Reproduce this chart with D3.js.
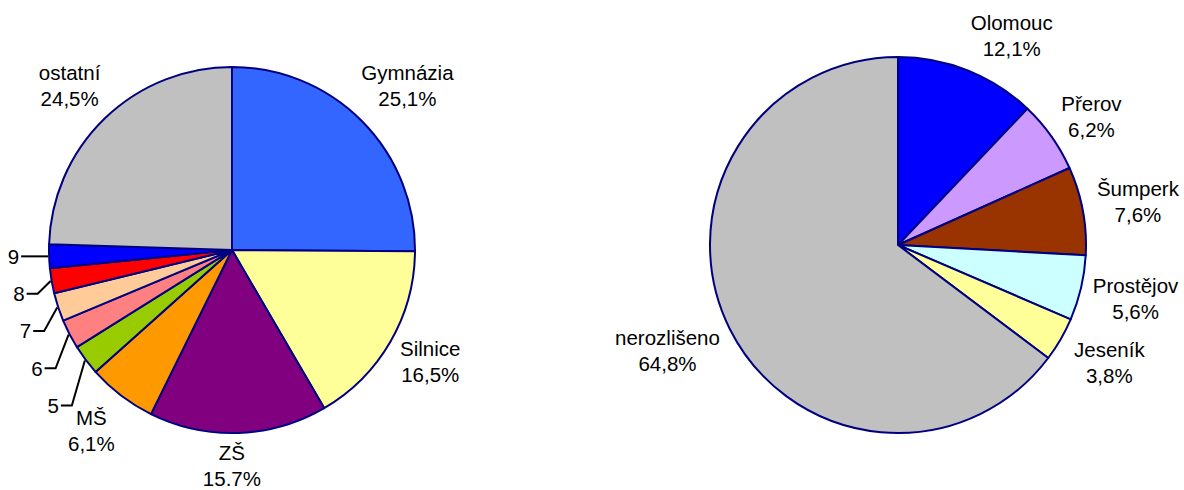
<!DOCTYPE html>
<html>
<head>
<meta charset="utf-8">
<script src="https://cdn.jsdelivr.net/npm/d3@7"></script>
<style>
  body { margin: 0; background: #fff; }
  svg { display: block; }
  text { font-family: "Liberation Sans", Arial, sans-serif; font-size: 20.5px; fill: #000; }
</style>
</head>
<body>
<svg id="chart" width="1184" height="490"></svg>
<script>
// left pie - types of schools
const leftNames = ['Gymnázia', 'Silnice', 'ZŠ', 'MŠ', '5', '6', '7', '8', '9', 'ostatní'];
const leftValues = [25.1, 16.5, 15.7, 6.1, 2.7, 2.6, 2.5, 2.2, 2.1, 24.5];
const leftLabels = ['25,1%', '16,5%', '15.7%', '6,1%', '', '', '', '', '', '24,5%'];
const leftColors = ['#3366FF', '#FFFF99', '#800080', '#FF9900', '#99CC00', '#FF8080', '#FFCC99', '#FF0000', '#0000FF', '#C0C0C0'];

// right pie - districts
const rightNames = ['Olomouc', 'Přerov', 'Šumperk', 'Prostějov', 'Jeseník', 'nerozlišeno'];
const rightValues = [12.1, 6.2, 7.6, 5.6, 3.8, 64.8];
const rightLabels = ['12,1%', '6,2%', '7,6%', '5,6%', '3,8%', '64,8%'];
const rightColors = ['#0000FF', '#CC99FF', '#993300', '#CCFFFF', '#FFFF99', '#C0C0C0'];

const svg = d3.select('#chart');
const pie = d3.pie().sort(null).value(d => d.value);

// small nudges so labels sit where the original put them
const nudge = {
  'Gymnázia': [13, -3], 'Silnice': [0, -3], 'ZŠ': [-8, -13], 'MŠ': [-2, -2], 'ostatní': [-3, 0],
  'Olomouc': [24, 15], 'Přerov': [-4, 11], 'Šumperk': [2, 1], 'Prostějov': [2, -2], 'Jeseník': [2, -4], 'nerozlišeno': [-14, -3]
};

function drawPie(cx, cy, r, labelR, names, values, labels, colors, leaderNames) {
  const data = names.map((n, i) => ({ name: n, value: values[i], label: labels[i], color: colors[i] }));
  const arcs = pie(data);
  const g = svg.append('g').attr('transform', `translate(${cx},${cy})`);
  const arc = d3.arc().innerRadius(0).outerRadius(r);

  g.selectAll('path.slice')
    .data(arcs)
    .enter()
    .append('path')
    .attr('class', 'slice')
    .attr('d', arc)
    .attr('fill', d => d.data.color)
    .attr('stroke', '#000080')
    .attr('stroke-width', 2)
    .attr('stroke-linejoin', 'round');

  const mid = d => (d.startAngle + d.endAngle) / 2;

  // two-line labels for the big slices
  const big = arcs.filter(d => !leaderNames.includes(d.data.name));
  const lab = g.selectAll('g.lab')
    .data(big)
    .enter()
    .append('g')
    .attr('class', 'lab')
    .attr('transform', d => {
      const a = mid(d);
      const off = nudge[d.data.name] || [0, 0];
      return `translate(${labelR * Math.sin(a) + off[0]},${-labelR * Math.cos(a) + off[1]})`;
    });
  lab.append('text')
    .attr('text-anchor', 'middle')
    .attr('dominant-baseline', 'central')
    .attr('y', -13)
    .text(d => d.data.name);
  lab.append('text')
    .attr('text-anchor', 'middle')
    .attr('dominant-baseline', 'central')
    .attr('y', 13)
    .text(d => d.data.label);

  // leader lines for the thin slices, stacked downwards from the last one
  const small = arcs.filter(d => leaderNames.includes(d.data.name)).reverse();
  if (!small.length) return;
  const y0 = -(r + 1) * Math.cos(mid(small[0]));
  small.forEach((d, i) => {
    const a = mid(d);
    const px = (r + 1) * Math.sin(a), py = -(r + 1) * Math.cos(a);
    const y = i === 0 ? py : y0 + i * 37.3;
    const ex = px - 13;
    const sx = ex - 11 - (i === 0 ? 3 : 0);
    g.append('path')
      .attr('d', d3.line()([[sx, y], [ex, y], [px, py]]))
      .attr('fill', 'none')
      .attr('stroke', '#000')
      .attr('stroke-width', 2);
    g.append('text')
      .attr('x', sx - 2)
      .attr('y', y)
      .attr('text-anchor', 'end')
      .attr('dominant-baseline', 'central')
      .text(d.data.name);
  });
}

drawPie(232, 250, 183, 229, leftNames, leftValues, leftLabels, leftColors, ['5', '6', '7', '8', '9']);
drawPie(898, 245, 188, 242, rightNames, rightValues, rightLabels, rightColors, []);
</script>
</body>
</html>
